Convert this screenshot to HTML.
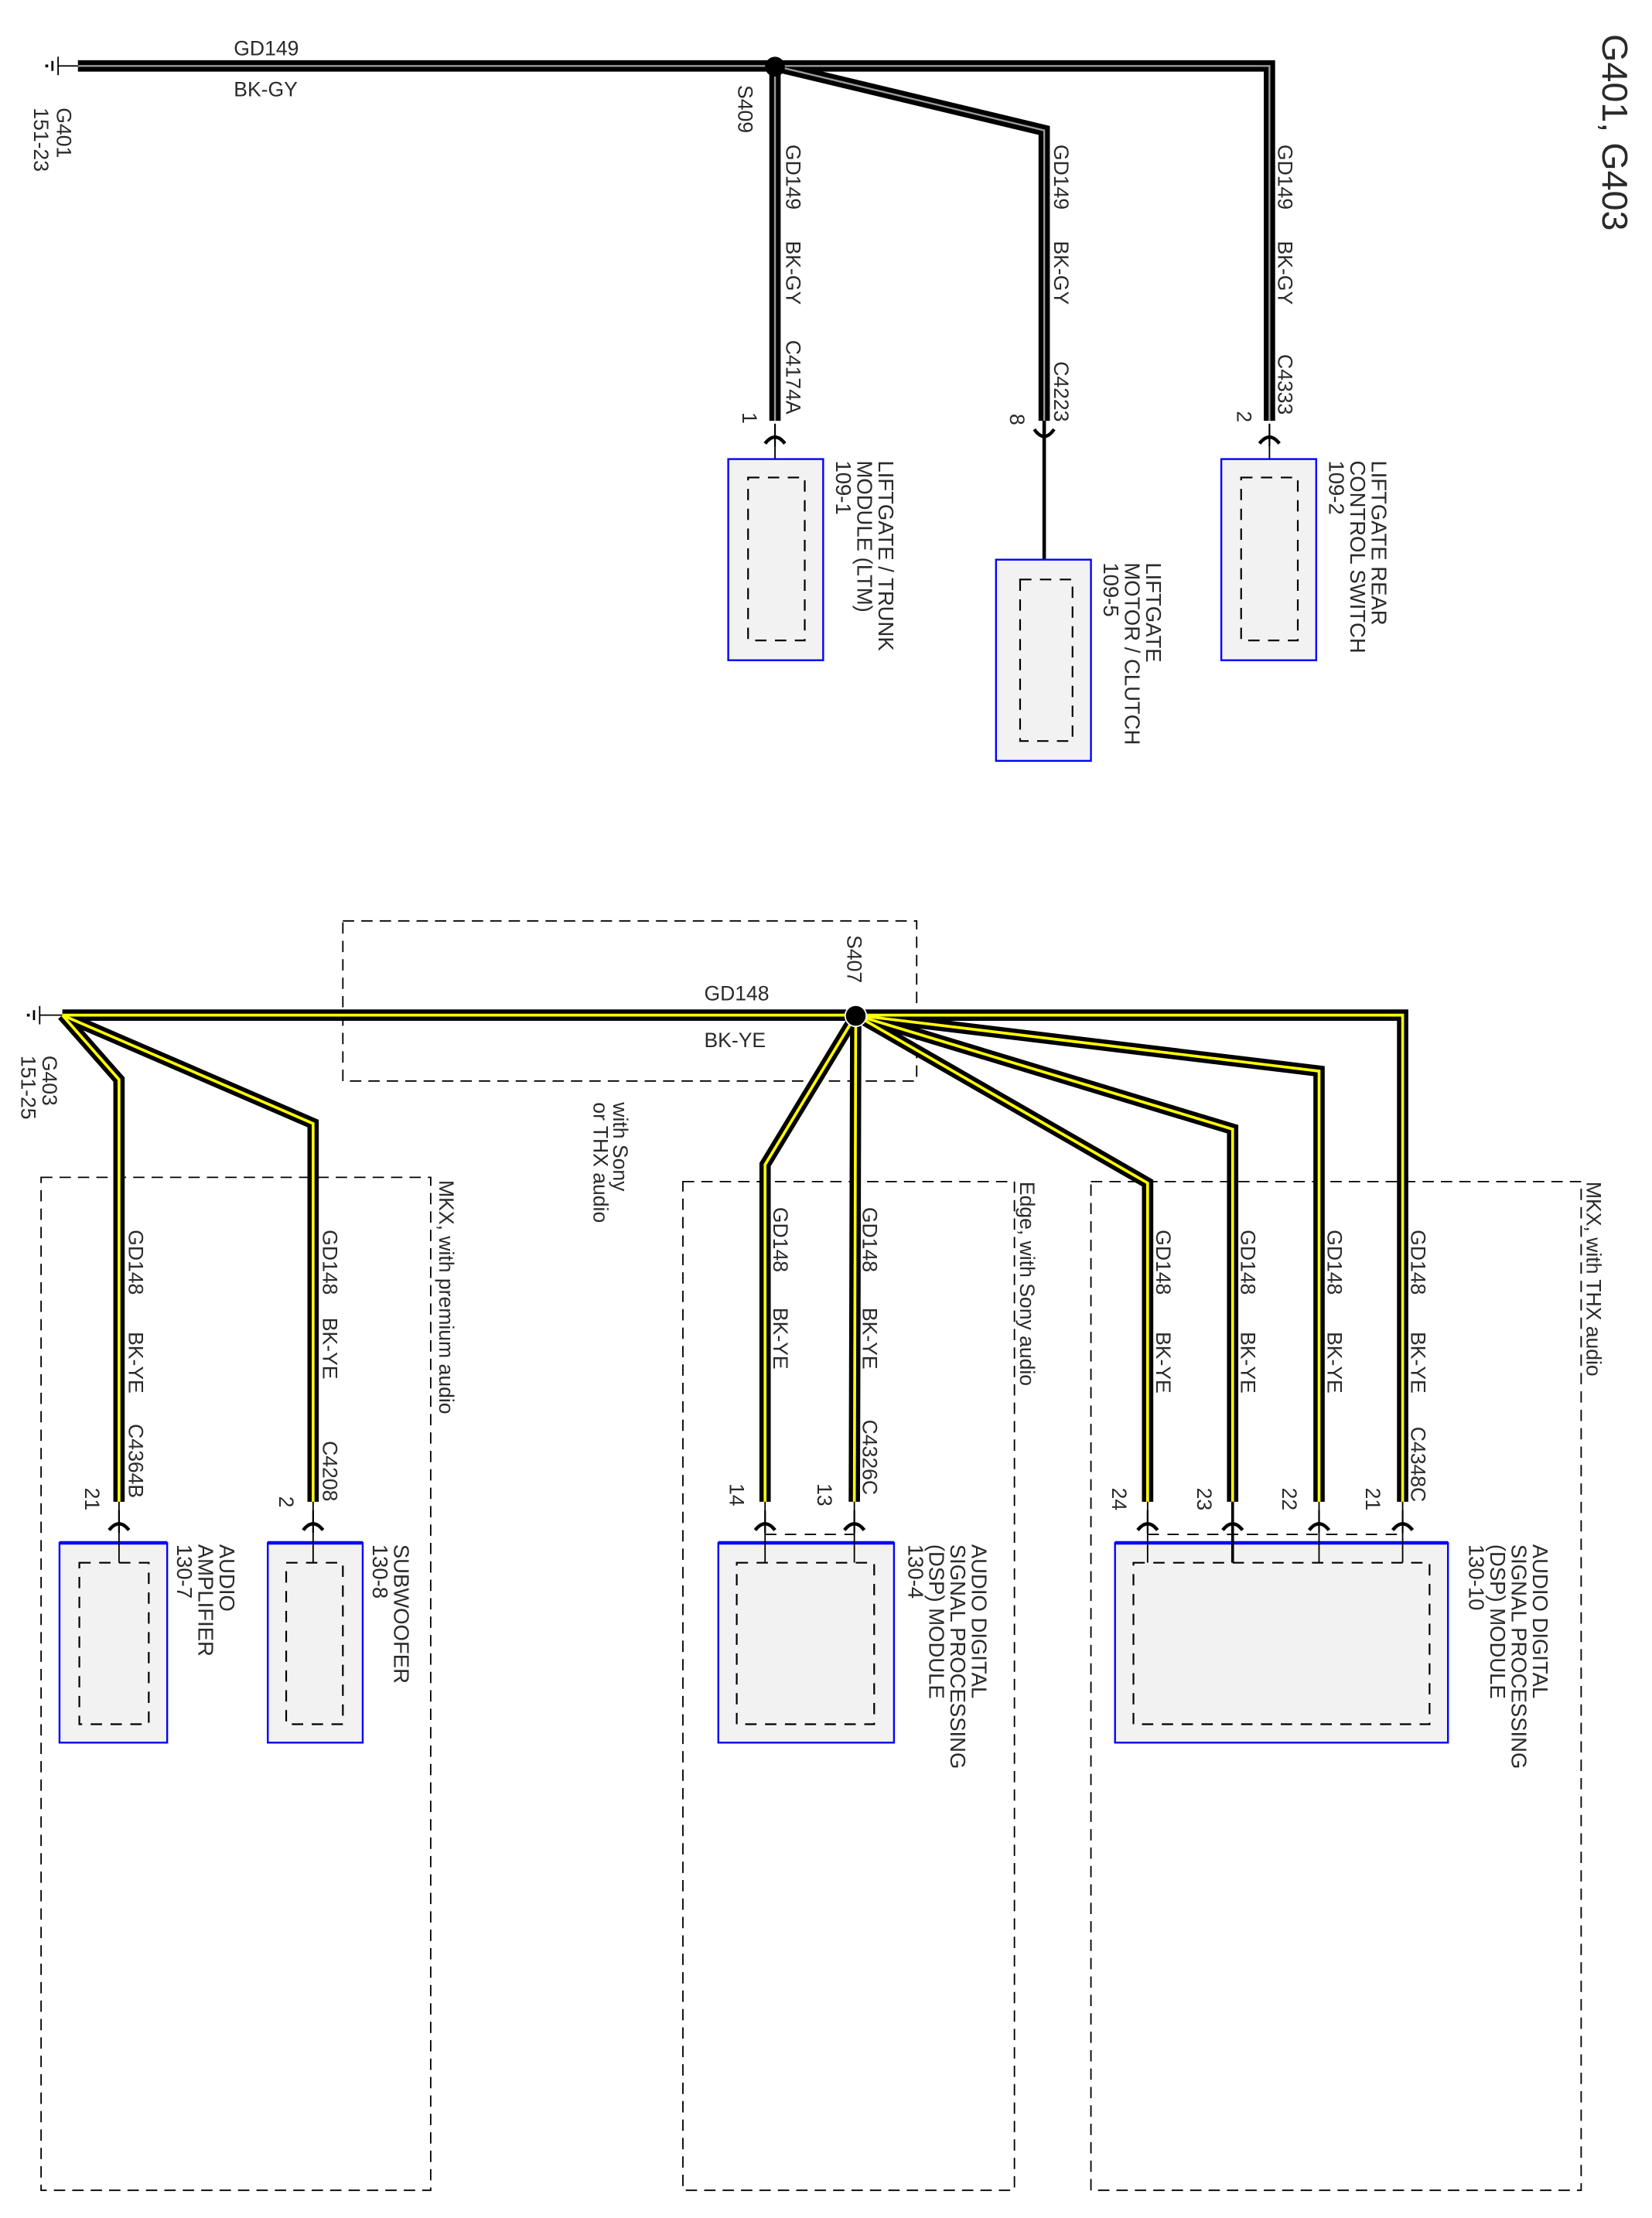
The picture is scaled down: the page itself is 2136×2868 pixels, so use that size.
<!DOCTYPE html>
<html><head><meta charset="utf-8"><style>
html,body{margin:0;padding:0;background:#fff;}
svg{display:block;}
text{font-family:"Liberation Sans",Arial,sans-serif;fill:#2a2a2a;}
</style></head><body>
<svg width="2136" height="2868" viewBox="0 0 1166 1565.5" xmlns="http://www.w3.org/2000/svg">
<defs>
<g id="fem"><path d="M-7,6 Q0,-3 7,6" fill="none" stroke="#000" stroke-width="2.4"/><line x1="0" y1="-8" x2="0" y2="8" stroke="#000" stroke-width="1.2"/></g>
</defs>
<g font-size="14.5">
<!-- ===== TOP ===== -->
<g stroke="#000" stroke-width="1" fill="none">
<line x1="41" y1="40" x2="41" y2="53"/><line x1="41" y1="46.5" x2="56" y2="46.5"/>
<line x1="37" y1="43" x2="37" y2="50" stroke-width="1.5"/><line x1="33" y1="45.5" x2="33" y2="47.5" stroke-width="2"/>
</g>
<g fill="none" stroke-linejoin="miter">
<polyline points="55,46.5 547,46.5" stroke="#000" stroke-width="8"/>
<polyline points="547,46.5 547,297" stroke="#000" stroke-width="8"/>
<polyline points="547,46.5 737,92 737,297" stroke="#000" stroke-width="8"/>
<polyline points="547,46.5 896,46.5 896,297" stroke="#000" stroke-width="8"/>
<g stroke="#9a9a9a" stroke-width="1.3">
<polyline points="55,46.5 547,46.5"/>
<polyline points="547,46.5 547,297"/>
<polyline points="547,46.5 737,92 737,297"/>
<polyline points="547,46.5 896,46.5 896,297"/>
</g>
</g>
<circle cx="547" cy="47" r="7" fill="#000"/>
<text x="165" y="39">GD149</text><text x="165" y="68">BK-GY</text>
<text transform="translate(40,76) rotate(90)">G401</text>
<text transform="translate(24,76) rotate(90)">151-23</text>
<text transform="translate(521,60) rotate(90)">S409</text>
<text transform="translate(555,102) rotate(90)">GD149</text>
<text transform="translate(555,170) rotate(90)">BK-GY</text>
<text transform="translate(555,240) rotate(90)">C4174A</text>
<text transform="translate(744,102) rotate(90)">GD149</text>
<text transform="translate(744,170) rotate(90)">BK-GY</text>
<text transform="translate(744,255) rotate(90)">C4223</text>
<text transform="translate(902,102) rotate(90)">GD149</text>
<text transform="translate(902,170) rotate(90)">BK-GY</text>
<text transform="translate(902,250) rotate(90)">C4333</text>
<text transform="translate(524,291) rotate(90)">1</text>
<text transform="translate(713,292) rotate(90)">8</text>
<text transform="translate(873,290) rotate(90)">2</text>
<use href="#fem" x="547" y="307"/>
<use href="#fem" x="896" y="307"/>
<path d="M730,303 Q737,313 744,303" fill="none" stroke="#000" stroke-width="2.4"/>
<line x1="737" y1="297" x2="737" y2="409" stroke="#000" stroke-width="2.5"/>
<line x1="547" y1="307" x2="547" y2="337" stroke="#000" stroke-width="1"/>
<line x1="896" y1="307" x2="896" y2="337" stroke="#000" stroke-width="1"/>
<g fill="#f2f2f2" stroke="#0000ff" stroke-width="1.3">
<rect x="514" y="324" width="67" height="142"/>
<rect x="703" y="395" width="67" height="142"/>
<rect x="862" y="324" width="67" height="142"/>
</g>
<g fill="none" stroke="#000" stroke-width="1.2" stroke-dasharray="8 6">
<rect x="528" y="337" width="40" height="115"/>
<rect x="720" y="409" width="37" height="114"/>
<rect x="876" y="337" width="40" height="115"/>
</g>
<g font-size="15">
<text transform="translate(620,325) rotate(90)">LIFTGATE / TRUNK</text>
<text transform="translate(605,325) rotate(90)">MODULE (LTM)</text>
<text transform="translate(590,325) rotate(90)">109-1</text>
<text transform="translate(809,397) rotate(90)">LIFTGATE</text>
<text transform="translate(794,397) rotate(90)">MOTOR / CLUTCH</text>
<text transform="translate(779,397) rotate(90)">109-5</text>
<text transform="translate(968,325) rotate(90)">LIFTGATE REAR</text>
<text transform="translate(953,325) rotate(90)">CONTROL SWITCH</text>
<text transform="translate(938,325) rotate(90)">109-2</text>
</g>
<text font-size="25.5" transform="translate(1131,24) rotate(90)">G401, G403</text>

<!-- ===== BOTTOM ===== -->
<g fill="none" stroke="#000" stroke-width="1" stroke-dasharray="8 5">
<rect x="242" y="650" width="405" height="113"/>
<rect x="29" y="831" width="275" height="715"/>
<rect x="482" y="834" width="234" height="712"/>
<rect x="770" y="834" width="346" height="712"/>
</g>
<g stroke="#000" stroke-width="1" fill="none">
<line x1="28" y1="710" x2="28" y2="723"/><line x1="28" y1="716.5" x2="44" y2="716.5"/>
<line x1="24" y1="713" x2="24" y2="720" stroke-width="1.5"/><line x1="20" y1="715.5" x2="20" y2="717.5" stroke-width="2"/>
</g>
<g fill="none" stroke-linejoin="miter">
<g stroke="#000" stroke-width="8">
<polyline points="44,716.5 604,716.5"/>
<polyline points="44,716.5 84,762 84,1060"/>
<polyline points="44,716.5 221,793 221,1060"/>
<polyline points="604,716.5 540,822 540,1060"/>
<polyline points="604,716.5 603,1060"/>
<polyline points="604,716.5 810,835 810,1060"/>
<polyline points="604,716.5 870,797 870,1060"/>
<polyline points="604,716.5 931,756 931,1060"/>
<polyline points="604,716.5 990,716.5 990,1060"/>
</g>
<g stroke="#ffff00" stroke-width="2">
<polyline points="44,716.5 604,716.5"/>
<polyline points="44,716.5 84,762 84,1060"/>
<polyline points="44,716.5 221,793 221,1060"/>
<polyline points="604,716.5 540,822 540,1060"/>
<polyline points="604,716.5 603,1060"/>
<polyline points="604,716.5 810,835 810,1060"/>
<polyline points="604,716.5 870,797 870,1060"/>
<polyline points="604,716.5 931,756 931,1060"/>
<polyline points="604,716.5 990,716.5 990,1060"/>
</g>
</g>
<circle cx="604" cy="717" r="7.5" fill="#000" stroke="#fff" stroke-width="1"/>
<text x="497" y="706">GD148</text><text x="497" y="739">BK-YE</text>
<text transform="translate(30,745) rotate(90)">G403</text>
<text transform="translate(15,745) rotate(90)">151-25</text>
<text transform="translate(598,660) rotate(90)">S407</text>
<g font-size="14.5">
<text transform="translate(433,778) rotate(90)">with Sony</text>
<text transform="translate(419,778) rotate(90)">or THX audio</text>
<text transform="translate(310,833) rotate(90)">MKX, with premium audio</text>
<text transform="translate(720,834) rotate(90)">Edge, with Sony audio</text>
<text transform="translate(1120,834) rotate(90)">MKX, with THX audio</text>
</g>
<text transform="translate(91,868) rotate(90)">GD148</text>
<text transform="translate(91,940) rotate(90)">BK-YE</text>
<text transform="translate(91,1005) rotate(90)">C4364B</text>
<text transform="translate(228,868) rotate(90)">GD148</text>
<text transform="translate(228,930) rotate(90)">BK-YE</text>
<text transform="translate(228,1017) rotate(90)">C4208</text>
<text transform="translate(546,852) rotate(90)">GD148</text>
<text transform="translate(546,923) rotate(90)">BK-YE</text>
<text transform="translate(609,852) rotate(90)">GD148</text>
<text transform="translate(609,923) rotate(90)">BK-YE</text>
<text transform="translate(609,1002) rotate(90)">C4326C</text>
<text transform="translate(816,868) rotate(90)">GD148</text>
<text transform="translate(816,940) rotate(90)">BK-YE</text>
<text transform="translate(876,868) rotate(90)">GD148</text>
<text transform="translate(876,940) rotate(90)">BK-YE</text>
<text transform="translate(937,868) rotate(90)">GD148</text>
<text transform="translate(937,940) rotate(90)">BK-YE</text>
<text transform="translate(996,868) rotate(90)">GD148</text>
<text transform="translate(996,940) rotate(90)">BK-YE</text>
<text transform="translate(996,1007) rotate(90)">C4348C</text>
<text transform="translate(60,1050) rotate(90)">21</text>
<text transform="translate(197,1056) rotate(90)">2</text>
<text transform="translate(515,1047) rotate(90)">14</text>
<text transform="translate(577,1047) rotate(90)">13</text>
<text transform="translate(785,1050) rotate(90)">24</text>
<text transform="translate(845,1050) rotate(90)">23</text>
<text transform="translate(905,1050) rotate(90)">22</text>
<text transform="translate(964,1050) rotate(90)">21</text>
<g fill="#f2f2f2" stroke="#0000ff" stroke-width="1.3">
<rect x="42" y="1089" width="76" height="141"/>
<rect x="189" y="1089" width="67" height="141"/>
<rect x="507" y="1089" width="124" height="141"/>
<rect x="787" y="1089" width="235" height="141"/>
</g>
<g stroke="#0000ff" stroke-width="2.5">
<line x1="42" y1="1089" x2="118" y2="1089"/><line x1="189" y1="1089" x2="256" y2="1089"/>
<line x1="507" y1="1089" x2="631" y2="1089"/><line x1="787" y1="1089" x2="1022" y2="1089"/>
</g>
<g fill="none" stroke="#000" stroke-width="1.2" stroke-dasharray="8 6">
<rect x="56" y="1103" width="49" height="114"/>
<rect x="202" y="1103" width="40" height="114"/>
<rect x="520" y="1103" width="97" height="114"/>
<rect x="800" y="1103" width="209" height="114"/>
<line x1="540" y1="1083" x2="603" y2="1083" stroke-width="1"/>
<line x1="810" y1="1083" x2="990" y2="1083" stroke-width="1"/>
</g>
<g stroke="#000" stroke-width="1">
<line x1="84" y1="1060" x2="84" y2="1103"/><line x1="221" y1="1060" x2="221" y2="1103"/>
<line x1="540" y1="1060" x2="540" y2="1103"/><line x1="603" y1="1060" x2="603" y2="1103"/>
<line x1="810" y1="1060" x2="810" y2="1103"/><line x1="870" y1="1060" x2="870" y2="1103" stroke-width="2"/>
<line x1="931" y1="1060" x2="931" y2="1103"/><line x1="990" y1="1060" x2="990" y2="1103"/>
</g>
<use href="#fem" x="84" y="1074"/><use href="#fem" x="221" y="1074"/>
<use href="#fem" x="540" y="1074"/><use href="#fem" x="603" y="1074"/>
<use href="#fem" x="810" y="1074"/><use href="#fem" x="870" y="1074"/>
<use href="#fem" x="931" y="1074"/><use href="#fem" x="990" y="1074"/>
<g font-size="15">
<text transform="translate(155,1090) rotate(90)">AUDIO</text>
<text transform="translate(140,1090) rotate(90)">AMPLIFIER</text>
<text transform="translate(125,1090) rotate(90)">130-7</text>
<text transform="translate(278,1090) rotate(90)">SUBWOOFER</text>
<text transform="translate(263,1090) rotate(90)">130-8</text>
<text transform="translate(686,1090) rotate(90)">AUDIO DIGITAL</text>
<text transform="translate(671,1090) rotate(90)">SIGNAL PROCESSING</text>
<text transform="translate(656,1090) rotate(90)">(DSP) MODULE</text>
<text transform="translate(641,1090) rotate(90)">130-4</text>
<text transform="translate(1082,1090) rotate(90)">AUDIO DIGITAL</text>
<text transform="translate(1067,1090) rotate(90)">SIGNAL PROCESSING</text>
<text transform="translate(1052,1090) rotate(90)">(DSP) MODULE</text>
<text transform="translate(1037,1090) rotate(90)">130-10</text>
</g>
</g>
</svg>
</body></html>
